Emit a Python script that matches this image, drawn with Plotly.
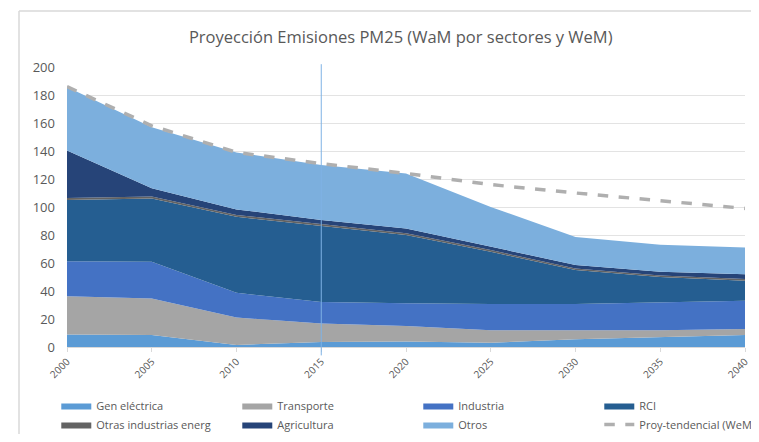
import plotly.graph_objects as go

years = [2000, 2005, 2010, 2015, 2020, 2025, 2030, 2035, 2040]

gen_electrica = [9.0, 8.5, 1.5, 3.6, 4.0, 3.0, 5.5, 7.0, 8.6]
transporte = [27.3, 26.1, 19.5, 13.1, 11.0, 9.0, 6.5, 5.0, 4.3]
industria = [25.0, 26.3, 17.7, 15.5, 16.3, 18.7, 18.7, 19.7, 20.1]
rci = [43.7, 45.1, 54.3, 54.2, 48.7, 37.3, 24.3, 18.3, 14.4]
otras_ind = [1.5, 1.5, 1.3, 1.2, 1.3, 1.2, 1.0, 1.0, 1.1]
agricultura = [33.8, 5.9, 4.0, 3.1, 3.4, 2.5, 2.6, 2.8, 3.5]
otros = [45.4, 43.6, 40.7, 39.3, 39.3, 28.3, 20.0, 19.2, 19.0]
proy_tendencial = [186, 158, 139, 131, 124, 116, 110, 104.5, 99]

series = [
    ("Gen eléctrica", gen_electrica, "#5B9BD5"),
    ("Transporte", transporte, "#A5A5A5"),
    ("Industria", industria, "#4472C4"),
    ("RCI", rci, "#255E91"),
    ("Otras industrias energ", otras_ind, "#636363"),
    ("Agricultura", agricultura, "#264478"),
    ("Otros", otros, "#7CAFDD"),
]

fig = go.Figure()
for name, vals, col in series:
    fig.add_trace(go.Scatter(
        x=years, y=vals, name=name, mode="lines",
        stackgroup="one", line=dict(width=0, color=col),
        fillcolor=col,
    ))

fig.add_trace(go.Scatter(
    x=years, y=proy_tendencial, name="Proy-tendencial (WeM)", mode="lines",
    line=dict(color="#AFAFAF", width=3.5, dash="dash"),
))

# vertical marker line at 2015
fig.add_shape(type="line", xref="x", yref="paper", x0=2015, x1=2015,
              y0=-0.03, y1=1.01, line=dict(color="#7FB2E5", width=1))
# chart frame (left + top edges)
fig.add_shape(type="line", xref="paper", yref="paper", x0=-0.0708, x1=-0.0708,
              y0=1.2, y1=-0.4, line=dict(color="#D9D9D9", width=1.5))
fig.add_shape(type="line", xref="paper", yref="paper", x0=-0.0708, x1=1.1,
              y0=1.2, y1=1.2, line=dict(color="#D9D9D9", width=1.5))

fig.update_layout(
    width=743, height=426,
    margin=dict(l=59, r=6, t=59, b=87, autoexpand=False),
    paper_bgcolor="white", plot_bgcolor="white",
    font=dict(family="Open Sans", color="#595959"),
    title=dict(text="Proyección Emisiones PM25 (WaM por sectores y WeM)",
               x=0.5286, xanchor="center", y=0.9308, yanchor="middle",
               font=dict(size=16.5, color="#595959", family="Open Sans")),
    xaxis=dict(range=[2000, 2040], tickmode="array", tickvals=years,
               ticktext=[str(y) for y in years], tickangle=-45,
               tickfont=dict(size=10, color="#595959"),
               showgrid=False, showline=True, linecolor="#D9D9D9",
               ticks="outside", ticklen=4, tickcolor="#D9D9D9", zeroline=False,
               automargin=False, ticklabeloverflow="allow"),
    yaxis=dict(range=[0, 200], dtick=20, tickfont=dict(size=13, color="#595959"),
               showgrid=True, gridcolor="#E3E3E3", zeroline=False, showline=False,
               ticks="", ticklabelstandoff=11, automargin=False),
    legend=dict(orientation="h", x=-0.0158, xanchor="left", y=-0.157, yanchor="top",
                entrywidth=136, entrywidthmode="pixels", traceorder="normal",
                font=dict(size=11, color="#595959"), tracegroupgap=0),
    showlegend=True,
)

fig.write_html("out.html")
